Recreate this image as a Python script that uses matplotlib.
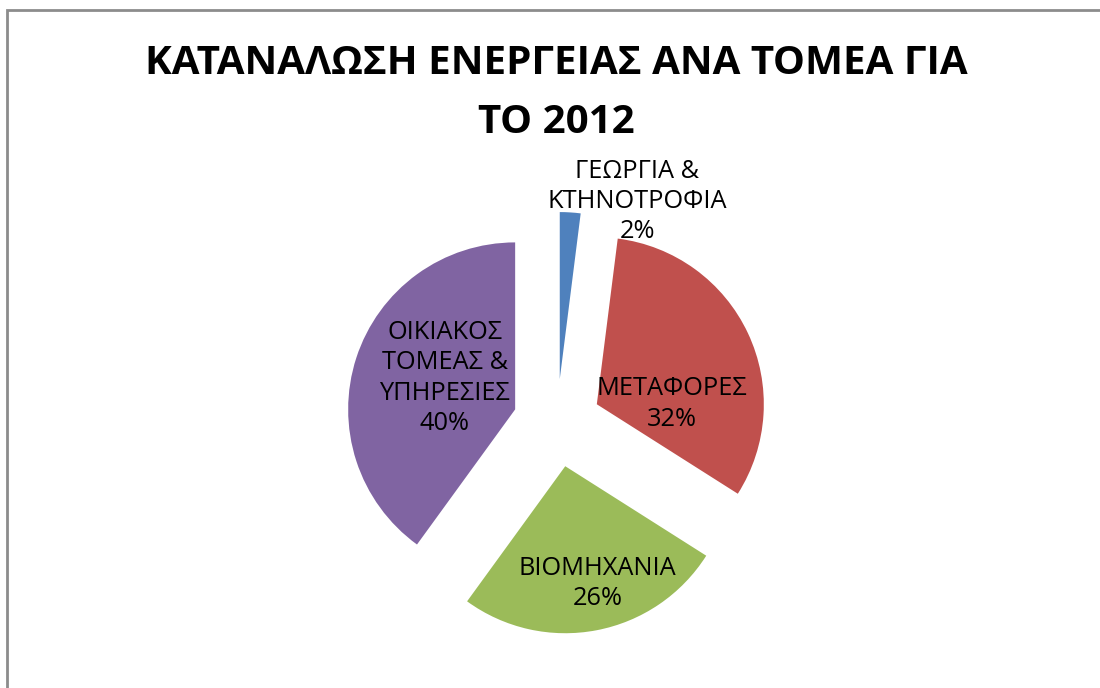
"""Energy consumption by sector, 2012 - exploded pie"""

import numpy as np
import matplotlib.pyplot as plt
from matplotlib.patches import Rectangle

plt.rcParams["font.family"] = ["Open Sans", "DejaVu Sans"]

sectors = ["ΓΕΩΡΓΙΑ &\nΚΤΗΝΟΤΡΟΦΙΑ", "ΜΕΤΑΦΟΡΕΣ", "ΒΙΟΜΗΧΑΝΙΑ",
           "ΟΙΚΙΑΚΟΣ\nΤΟΜΕΑΣ &\nΥΠΗΡΕΣΙΕΣ"]
shares = [2, 32, 26, 40]
colors = ["#4F81BD", "#C0504D", "#9BBB59", "#8064A2"]
title = "ΚΑΤΑΝΑΛΩΣΗ ΕΝΕΡΓΕΙΑΣ ΑΝΑ ΤΟΜΕΑ ΓΙΑ\nΤΟ 2012"

# where each label sits: distance from the slice tip (in radii) and
# turn away from the slice's middle angle (degrees)
label_dist = [1.16, 0.45, 0.73, 0.46]
label_turn = [-20, -25, 4.5, -6]


def main():
    fig = plt.figure(figsize=(11, 6.88), dpi=100)
    ax = fig.add_axes([0, 0, 1, 1])

    # axes in pixel units so the pie is sized like the sheet chart
    radius = 167
    wedges, _ = ax.pie(shares, colors=colors, startangle=90,
                       counterclock=False, radius=radius,
                       center=(557, 265), explode=[44] * len(shares),
                       frame=True)
    ax.set_xlim(0, 1100)
    ax.set_ylim(0, 688)
    ax.set_aspect("auto")
    ax.axis("off")

    total = sum(shares)
    for w, name, val, d, turn in zip(wedges, sectors, shares,
                                     label_dist, label_turn):
        mid = np.deg2rad((w.theta1 + w.theta2) / 2 + turn)
        cx, cy = w.center
        x = cx + d * radius * np.cos(mid)
        y = cy + d * radius * np.sin(mid)
        pct = round(100 * val / total)
        ax.text(x, y, f"{name}\n{pct}%", ha="center", va="center",
                fontsize=18.3, linespacing=1.28, color="black")

    fig.text(556 / 1100, 1 - 93 / 688, title, ha="center", va="center",
             fontsize=29, fontweight="bold", linespacing=1.68)

    # chart area outline
    ax.add_patch(Rectangle((7, -20), 1200, 678 - (-20), fill=False,
                           edgecolor="#8c8c8c", linewidth=2,
                           clip_on=False))

    fig.savefig("out.png", dpi=100, facecolor="white")


if __name__ == "__main__":
    main()
